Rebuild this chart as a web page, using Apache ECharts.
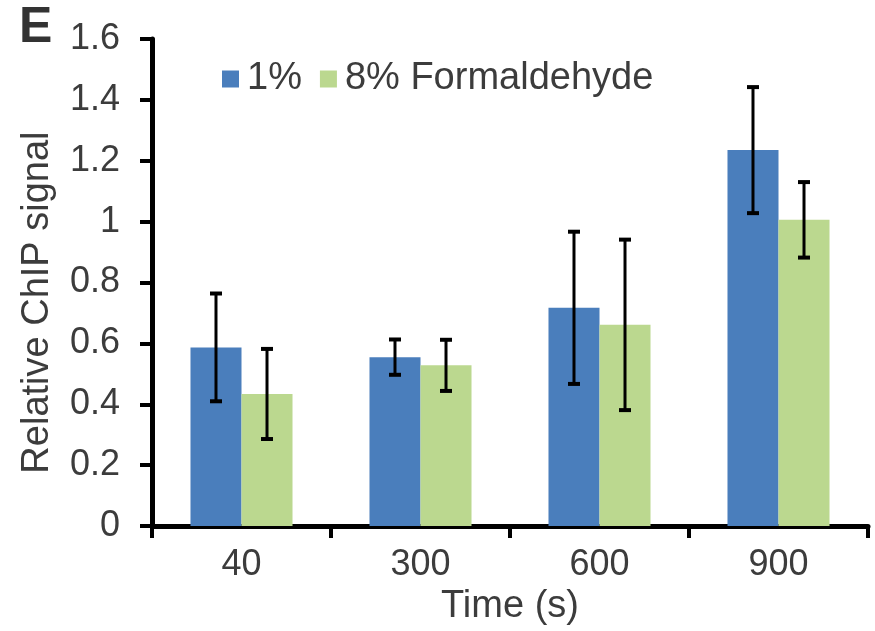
<!DOCTYPE html>
<html>
<head>
<meta charset="utf-8">
<script src="https://cdn.jsdelivr.net/npm/echarts@6/dist/echarts.min.js"></script>
<style>
  html, body { margin: 0; padding: 0; background: #fff; }
  #chart { width: 875px; height: 631px; }
</style>
</head>
<body>
<div id="chart"></div>
<script>
// Time points (s)
const categories = ['40', '300', '600', '900'];

// Relative ChIP signal, mean and error per time point
const low = [0.587, 0.555, 0.717, 1.235];      // 1% formaldehyde
const lowErr = [0.177, 0.058, 0.25, 0.207];
const high = [0.434, 0.528, 0.661, 1.006];     // 8% formaldehyde
const highErr = [0.148, 0.084, 0.28, 0.124];

const seriesNames = ['1%', '8% Formaldehyde'];
const yTicks = { min: 0, max: 1.6, interval: 0.2 };

const BLUE = '#4a7ebc';
const GREEN = '#bbd88f';
const TEXT = '#3c3c3c';
const FONT = '"Liberation Sans", Arial, sans-serif';
const BAR_FRACTION = 0.285;   // bar width as a share of the category band

function errorBars(values, errs, side) {
  return {
    type: 'custom',
    silent: true,
    z: 10,
    data: values.map((v, i) => [i, v - errs[i], v + errs[i]]),
    renderItem: function (params, api) {
      const band = api.size([1, 0])[0];
      const offset = side * band * BAR_FRACTION / 2;
      const lo = api.coord([api.value(0), api.value(1)]);
      const hi = api.coord([api.value(0), api.value(2)]);
      const x = lo[0] + offset;
      const cap = 6;
      const capStyle = { stroke: '#000', lineWidth: 4 };
      return {
        type: 'group',
        children: [
          { type: 'line', shape: { x1: x, y1: lo[1], x2: x, y2: hi[1] }, style: { stroke: '#000', lineWidth: 3 } },
          { type: 'line', shape: { x1: x - cap, y1: hi[1], x2: x + cap, y2: hi[1] }, style: capStyle },
          { type: 'line', shape: { x1: x - cap, y1: lo[1], x2: x + cap, y2: lo[1] }, style: capStyle }
        ]
      };
    }
  };
}

const chart = echarts.init(document.getElementById('chart'), null, { renderer: 'canvas' });

chart.setOption({
  animation: false,
  backgroundColor: '#fff',
  textStyle: { fontFamily: FONT },
  title: {
    text: 'E',
    left: 14,
    top: -2,
    textStyle: { fontSize: 50, fontWeight: 'bold', color: '#333', fontFamily: FONT }
  },
  legend: {
    data: seriesNames,
    left: 222,
    top: 60,
    padding: 0,
    itemWidth: 17,
    itemHeight: 17,
    itemGap: 18,
    icon: 'rect',
    textStyle: { fontSize: 38, color: TEXT, fontFamily: FONT, padding: [0, 0, 0, 3] }
  },
  grid: { left: 152, right: 7, top: 39, bottom: 102, containLabel: false },
  xAxis: {
    type: 'category',
    data: categories,
    name: 'Time (s)',
    nameLocation: 'middle',
    nameGap: 58,
    nameTextStyle: { fontSize: 38, color: TEXT, fontFamily: FONT },
    axisLine: { lineStyle: { color: '#000', width: 5 } },
    axisTick: { show: true, length: 12, lineStyle: { color: '#000', width: 4 } },
    axisLabel: { fontSize: 36, color: TEXT, margin: 21, fontFamily: FONT },
    splitLine: { show: false }
  },
  yAxis: {
    type: 'value',
    min: yTicks.min,
    max: yTicks.max,
    interval: yTicks.interval,
    name: 'Relative ChIP signal',
    nameLocation: 'middle',
    nameGap: 95,
    nameTextStyle: { fontSize: 38, color: TEXT, fontFamily: FONT, padding: [0, 40, 0, 0] },
    axisLine: { show: true, lineStyle: { color: '#000', width: 5 } },
    axisTick: { show: true, length: 12, lineStyle: { color: '#000', width: 4 } },
    axisLabel: { fontSize: 36, color: TEXT, margin: 32, fontFamily: FONT },
    splitLine: { show: false }
  },
  series: [
    {
      name: seriesNames[0],
      type: 'bar',
      data: low,
      barWidth: (BAR_FRACTION * 100) + '%',
      barGap: '0%',
      itemStyle: { color: BLUE }
    },
    {
      name: seriesNames[1],
      type: 'bar',
      data: high,
      barWidth: (BAR_FRACTION * 100) + '%',
      barGap: '0%',
      itemStyle: { color: GREEN }
    },
    errorBars(low, lowErr, -1),
    errorBars(high, highErr, 1)
  ]
});
</script>
</body>
</html>
